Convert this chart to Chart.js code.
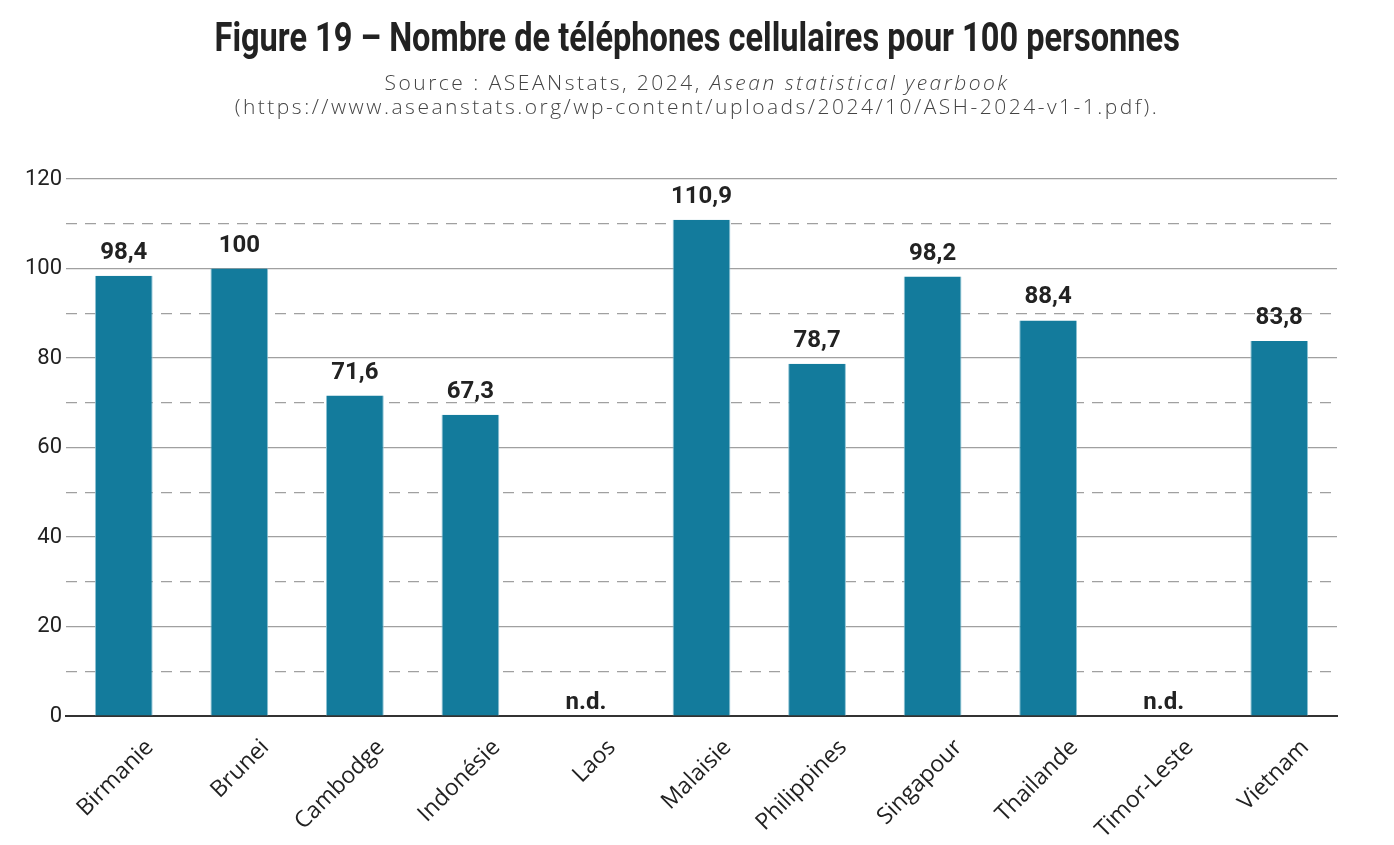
<!DOCTYPE html>
<html lang="fr">
<head>
<meta charset="utf-8">
<title>Figure 19</title>
<script src="https://cdn.jsdelivr.net/npm/chart.js@4.4.1/dist/chart.umd.min.js"></script>
<style>
  body { margin: 0; background: #fff; }
  #cadre { position: relative; width: 1394px; height: 845px; }
  #titre {
    position: absolute; top: 14px; left: 0; width: 1394px; text-align: center;
  }
  #titre span {
    display: inline-block; transform-origin: center;
    font-family: Roboto, sans-serif; font-weight: bold; font-size: 40px;
    line-height: 48px; color: #222; white-space: nowrap;
  }
  #source {
    position: absolute; top: 70px; left: 0; width: 1394px; text-align: center;
    font-family: 'Open Sans', sans-serif; font-weight: 300; font-size: 21px;
    line-height: 24px; letter-spacing: 2.5px; color: #444;
  }
  canvas { position: absolute; top: 0; left: 0; }
</style>
</head>
<body>
<div id="cadre">
  <canvas id="graphique" width="1394" height="845"></canvas>
  <div id="titre"><span>Figure 19 – Nombre de téléphones cellulaires pour 100 personnes</span></div>
  <div id="source">Source : ASEANstats, 2024, <i>Asean statistical yearbook</i><br>(https://www.aseanstats.org/wp-content/uploads/2024/10/ASH-2024-v1-1.pdf).</div>
</div>
<script>
// Données
const pays = ['Birmanie', 'Brunei', 'Cambodge', 'Indonésie', 'Laos', 'Malaisie',
  'Philippines', 'Singapour', 'Thailande', 'Timor-Leste', 'Vietnam'];
const telephones = [98.4, 100, 71.6, 67.3, null, 110.9, 78.7, 98.2, 88.4, null, 83.8];
const graduationsMajeures = [0, 20, 40, 60, 80, 100, 120];
const graduationsMineures = [10, 30, 50, 70, 90, 110];

// Titre étroit : on resserre le texte pour retrouver la largeur de la figure
const titre = document.querySelector('#titre span');
titre.style.transform = 'scaleX(' + (965 / titre.offsetWidth) + ')';

function formater(v) {
  return String(v).replace('.', ',');
}

// Étiquettes au-dessus des barres, et "n.d." pour les valeurs manquantes
const etiquettes = {
  id: 'etiquettes',
  afterDatasetsDraw(chart) {
    const ctx = chart.ctx;
    const meta = chart.getDatasetMeta(0);
    const x = chart.scales.x;
    const y = chart.scales.y;
    ctx.save();
    ctx.font = 'bold 24px Roboto, sans-serif';
    ctx.fillStyle = '#222';
    ctx.textAlign = 'center';
    ctx.textBaseline = 'alphabetic';
    telephones.forEach((v, i) => {
      if (v === null) {
        ctx.fillText('n.d.', x.getPixelForValue(i), y.getPixelForValue(0) - 7);
      } else {
        ctx.fillText(formater(v), meta.data[i].x, meta.data[i].y - 17);
      }
    });
    ctx.restore();
  }
};

new Chart(document.getElementById('graphique'), {
  type: 'bar',
  data: {
    labels: pays,
    datasets: [{
      data: telephones,
      backgroundColor: '#137b9c',
      borderColor: '#8fc3d4',
      borderWidth: { left: 1, right: 1, top: 0, bottom: 0 },
      borderSkipped: 'bottom',
      barPercentage: 0.5,
      categoryPercentage: 1
    }]
  },
  options: {
    responsive: false,
    animation: false,
    layout: { padding: { top: 179, left: 0, right: 57, bottom: 0 } },
    plugins: {
      legend: { display: false },
      tooltip: { enabled: false }
    },
    scales: {
      x: {
        afterFit(scale) { scale.height = 129; },
        grid: { display: false },
        border: { color: '#333', width: 2 },
        ticks: {
          color: '#222',
          font: { family: "'Open Sans', sans-serif", size: 23 },
          minRotation: 45,
          maxRotation: 45,
          labelOffset: 26,
          padding: 10
        }
      },
      y: {
        min: 0,
        max: 120,
        afterBuildTicks(scale) {
          scale.ticks = graduationsMajeures.concat(graduationsMineures)
            .sort((a, b) => a - b)
            .map(v => ({ value: v }));
        },
        afterFit(scale) { scale.width = 66; },
        grid: {
          color: '#a0a0a0',
          lineWidth: 1.2,
          drawTicks: false
        },
        border: {
          display: false,
          dash: ctx => graduationsMineures.includes(ctx.tick.value) ? [11, 8] : []
        },
        ticks: {
          color: '#222',
          padding: 4,
          font: { family: 'Roboto, sans-serif', size: 22 },
          callback: v => graduationsMajeures.includes(v) ? v : ''
        }
      }
    }
  },
  plugins: [etiquettes]
});
</script>
</body>
</html>
